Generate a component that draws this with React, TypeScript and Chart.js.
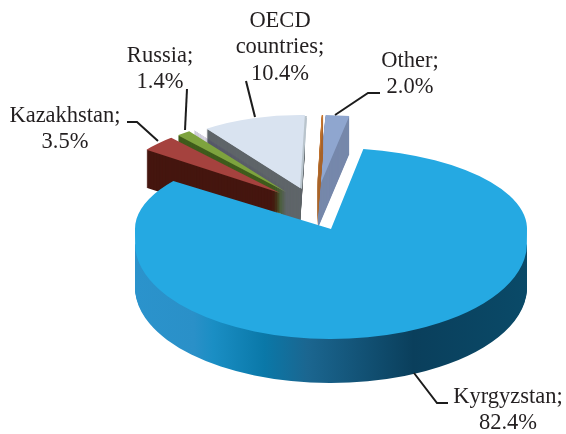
import React, { useEffect, useRef } from "react";
import { Chart, registerables } from "chart.js";

Chart.register(...registerables);

// ---- data ----
const categories = ["Kyrgyzstan", "Kazakhstan", "Russia", "Unlabelled A", "OECD countries", "Unlabelled B", "Other"];
const shares = [82.4, 3.5, 1.4, 0.05, 10.4, 0.15, 2.0];
const faceColors = ["#25a9e2", "#a5423e", "#7ea33e", "#4a3a7a", "#d9e3f0", "#c9772f", "#8fa6cf"];
const wallColors = ["#0d7aa8", "#45160f", "#3f5c1c", "#3a2c66", "#5f6569", "#a9662c", "#7688ab"];
const labelLines = [
  ["Kyrgyzstan;", "82.4%"],
  ["Kazakhstan;", "3.5%"],
  ["Russia;", "1.4%"],
  ["OECD", "countries;", "10.4%"],
  ["Other;", "2.0%"],
];

// ---- layout & style ----
const RADIUS = 196;
const ROTATION = 9.5;
const BACK_DEPTH = 38;
const FRONT_DEPTH = 44;
// explosion shift and projected radii of each rear slice, by index in the data
const rearFrames: Record<number, { dx: number; dy: number; rx: number; ry: number; rim?: string }> = {
  6: { dx: 35, dy: -27, rx: 190, ry: 75 },
  5: { dx: 34, dy: -27, rx: 153, ry: 75 },
  4: { dx: 17, dy: -29, rx: 160, ry: 73, rim: "#b9c4cc" },
  3: { dx: 5, dy: -27, rx: 160, ry: 73 },
  2: { dx: 3, dy: -25, rx: 165, ry: 75 },
  1: { dx: -3, dy: -24, rx: 166, ry: 73 },
};
const rearOrder = [6, 5, 4, 3, 2, 1];
// the big front slice is projected in horizontal bands (perspective)
const frontBands = [
  { top: 0, bottom: 229, dx: 48, dy: 12, ry: 81 },
  { top: 229, bottom: 244, dx: 48, dy: 12, ry: 400 },
  { top: 244, bottom: 434, dx: 48, dy: 26.5, ry: 95.5 },
];
const frontWall = frontBands[2];
const wallStops: [number, string][] = [
  [0, "#2b93cc"],
  [0.15, "#2a90c8"],
  [0.2, "#1a8ec4"],
  [0.33, "#0a78a8"],
  [0.44, "#1b6690"],
  [0.71, "#0a3f5c"],
  [1, "#0a4a68"],
];
const labelAnchors = [
  { x: 508, y: 397 },
  { x: 65, y: 116 },
  { x: 160, y: 56 },
  { x: 280, y: 21 },
  { x: 410, y: 61 },
];
const LINE_HEIGHT = 26.5;
const leaders: [number, number][][] = [
  [[414, 373], [437, 403], [448, 403]],
  [[127, 122], [137, 122], [158, 141]],
  [[187, 89], [185, 130]],
  [[246, 81], [255, 117]],
  [[380, 93], [368, 93], [335, 115]],
];

function drawArcIn(ctx: CanvasRenderingContext2D, arc: any, dx: number, dy: number, rx: number, ry: number, fill?: any) {
  ctx.save();
  ctx.translate(arc.x + dx, arc.y + dy);
  ctx.scale(rx / RADIUS, ry / RADIUS);
  ctx.translate(-arc.x, -arc.y);
  const saved = arc.options;
  if (fill) arc.options = { ...saved, backgroundColor: fill, borderColor: fill };
  arc.draw(ctx);
  arc.options = saved;
  ctx.restore();
}

const pie3d = {
  id: "pie3d",
  beforeDatasetDraw(chart: any) {
    const ctx: CanvasRenderingContext2D = chart.ctx;
    const arcs = chart.getDatasetMeta(0).data;
    for (const i of rearOrder) {
      const f = rearFrames[i];
      if (f.rim) drawArcIn(ctx, arcs[i], f.dx + 2, f.dy + 3, f.rx, f.ry, f.rim);
      for (let d = BACK_DEPTH; d >= 1; d--) drawArcIn(ctx, arcs[i], f.dx, f.dy + d, f.rx, f.ry, wallColors[i]);
      if (f.rim) drawArcIn(ctx, arcs[i], f.dx + 2, f.dy + 1, f.rx, f.ry, f.rim);
      drawArcIn(ctx, arcs[i], f.dx, f.dy, f.rx, f.ry);
    }
    const big = arcs[0];
    const g = ctx.createLinearGradient(big.x - RADIUS, 0, big.x + RADIUS, 0);
    wallStops.forEach(([s, c]) => g.addColorStop(s, c));
    for (let d = FRONT_DEPTH; d >= 1; d--) {
      ctx.save();
      ctx.beginPath();
      ctx.rect(0, frontWall.top + d, chart.width, chart.height);
      ctx.clip();
      drawArcIn(ctx, big, frontWall.dx, frontWall.dy + d, RADIUS, frontWall.ry, g);
      ctx.restore();
    }
    for (const b of frontBands) {
      ctx.save();
      ctx.beginPath();
      ctx.rect(0, b.top, chart.width, b.bottom - b.top);
      ctx.clip();
      drawArcIn(ctx, big, b.dx, b.dy, RADIUS, b.ry);
      ctx.restore();
    }
    return false;
  },
  afterDraw(chart: any) {
    const ctx: CanvasRenderingContext2D = chart.ctx;
    ctx.save();
    ctx.strokeStyle = "#1c1c1c";
    ctx.lineWidth = 2;
    ctx.lineJoin = "miter";
    for (const pts of leaders) {
      ctx.beginPath();
      pts.forEach(([x, y], k) => (k ? ctx.lineTo(x, y) : ctx.moveTo(x, y)));
      ctx.stroke();
    }
    ctx.fillStyle = "#231f20";
    ctx.font = '22.5px "Liberation Serif"';
    ctx.textAlign = "center";
    ctx.textBaseline = "middle";
    labelLines.forEach((lines, i) => {
      lines.forEach((t, k) => ctx.fillText(t, labelAnchors[i].x, labelAnchors[i].y + k * LINE_HEIGHT));
    });
    ctx.restore();
  },
};

export default function App() {
  const ref = useRef<HTMLCanvasElement>(null);
  useEffect(() => {
    const chart = new Chart(ref.current!, {
      type: "pie",
      data: {
        labels: categories,
        datasets: [{ data: shares, backgroundColor: faceColors, borderWidth: 0 }],
      },
      options: {
        animation: false,
        responsive: false,
        radius: RADIUS,
        rotation: ROTATION,
        layout: { padding: 0 },
        plugins: { legend: { display: false }, tooltip: { enabled: false } },
      },
      plugins: [pie3d],
    } as any);
    return () => chart.destroy();
  }, []);
  return (
    <div style={{ position: "fixed", left: 0, top: 0, width: 566, height: 434, background: "#fff" }}>
      <canvas ref={ref} width={566} height={434} style={{ display: "block" }} />
    </div>
  );
}
